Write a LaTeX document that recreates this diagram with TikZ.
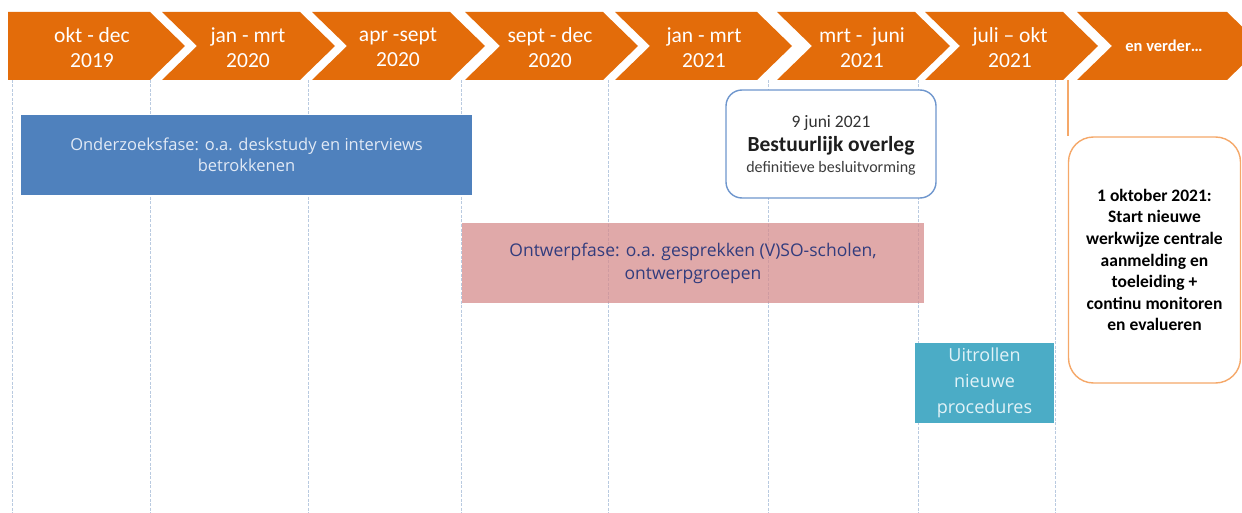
\documentclass[tikz,border=0pt]{standalone}
\usepackage{fontspec}
\setmainfont{Carlito}
\newfontfamily\osans{Open Sans}
\definecolor{chev}{RGB}{227,108,10}
\definecolor{gridc}{RGB}{185,202,224}
\definecolor{bluebox}{RGB}{79,129,189}
\definecolor{pinkbox}{RGB}{214,140,140}
\definecolor{tealbox}{RGB}{75,172,198}
\definecolor{calloutc}{RGB}{110,150,205}
\definecolor{orangec}{RGB}{245,168,105}
\definecolor{navy}{RGB}{50,60,125}
\tikzset{
  chevtext/.style={text=white, align=center, font=\fontsize{21.5}{25}\selectfont, inner sep=0pt},
  gridline/.style={draw=gridc, line width=1pt, dash pattern=on 3pt off 1.5pt},
  phasebox/.style={inner sep=0pt, align=center},
}
\newcommand\chevshape[2]{\fill[chev] (#1,12) -- (#2,12) -- (#2+35,46) -- (#2,80) -- (#1,80) -- (#1+35,46) -- cycle;}
\begin{document}
\begin{tikzpicture}[x=1pt,y=-1pt]
\useasboundingbox (0,0) rectangle (1242,513);
% grid lines
\foreach \x in {12,150,308,461,608,768,918,1055}
  \draw[gridline] (\x,80) -- (\x,513);
% chevrons
\fill[chev] (8,12) -- (150,12) -- (185,46) -- (150,80) -- (8,80) -- cycle;
\chevshape{162}{300}
\chevshape{312}{450}
\chevshape{465}{603}
\chevshape{615}{757}
\chevshape{777}{915}
\chevshape{925}{1063}
\chevshape{1077}{1227}
\node[chevtext] (c1) at (92,47.5) {okt - dec\\2019};
\node[chevtext] (c2) at (248,47.5) {jan - mrt\\2020};
\node[chevtext] (c3) at (398,47.5) {apr -sept\\2020};
\node[chevtext] (c4) at (550,47.5) {sept - dec\\2020};
\node[chevtext] (c5) at (704,47.5) {jan - mrt\\2021};
\node[chevtext] (c6) at (862,47.5) {mrt -\ \ juni\\2021};
\node[chevtext] (c7) at (1010,47.5) {juli -- okt\\2021};
\node[chevtext, font=\bfseries\fontsize{16.5}{18}\selectfont] (c8) at (1164,46) {en verder\dots};
% phase boxes
\node[phasebox, fill=bluebox, minimum width=451pt, minimum height=80pt,
      text={rgb,255:red,225;green,233;blue,245}, font=\osans\fontsize{16.5}{20.5}\selectfont]
  (onderzoek) at (246.5,155) {Onderzoeksfase: o.a. deskstudy en interviews\\betrokkenen};
\node[phasebox, fill=pinkbox, fill opacity=0.75, text opacity=1, minimum width=462pt, minimum height=80pt,
      text=navy, font=\osans\fontsize{17.5}{23}\selectfont]
  (ontwerp) at (693,263) {Ontwerpfase: o.a. gesprekken (V)SO-scholen,\\ontwerpgroepen};
\node[phasebox, fill=tealbox, minimum width=139pt, minimum height=80pt,
      text={rgb,255:red,225;green,242;blue,247}, font=\osans\fontsize{18}{26}\selectfont]
  (uitrol) at (984.5,383) {Uitrollen\\nieuwe\\procedures};
% callout
\node[draw=calloutc, line width=1.4pt, fill=white, rounded corners=16pt,
      minimum width=210pt, minimum height=108pt, align=center, inner sep=0pt]
  (overleg) at (831,144) {};
\node[font=\fontsize{17.5}{18}\selectfont, text={rgb,255:red,50;green,50;blue,50}] (d1) at (831,123) {9 juni 2021};
\node[font=\bfseries\fontsize{21.5}{22}\selectfont, text={rgb,255:red,30;green,30;blue,30}] (d2) at (831,146) {Bestuurlijk overleg};
\node[font=\fontsize{16}{16}\selectfont, text={rgb,255:red,60;green,60;blue,60}] (d3) at (831,168) {definitieve besluitvorming};
% orange box
\node[draw=orangec, line width=1.4pt, fill=white, rounded corners=25pt,
      minimum width=172pt, minimum height=246pt, align=center, inner sep=0pt,
      font=\bfseries\fontsize{17.5}{21.6}\selectfont]
  (start) at (1154.5,260) {1 oktober 2021:\\Start nieuwe\\werkwijze centrale\\aanmelding en\\toeleiding +\\continu monitoren\\en evalueren};
\coordinate (startline) at (1068,80);
\draw[orangec, line width=1.2pt] (startline) -- (start.north west -| startline) ++(0,25);
\end{tikzpicture}
\end{document}
